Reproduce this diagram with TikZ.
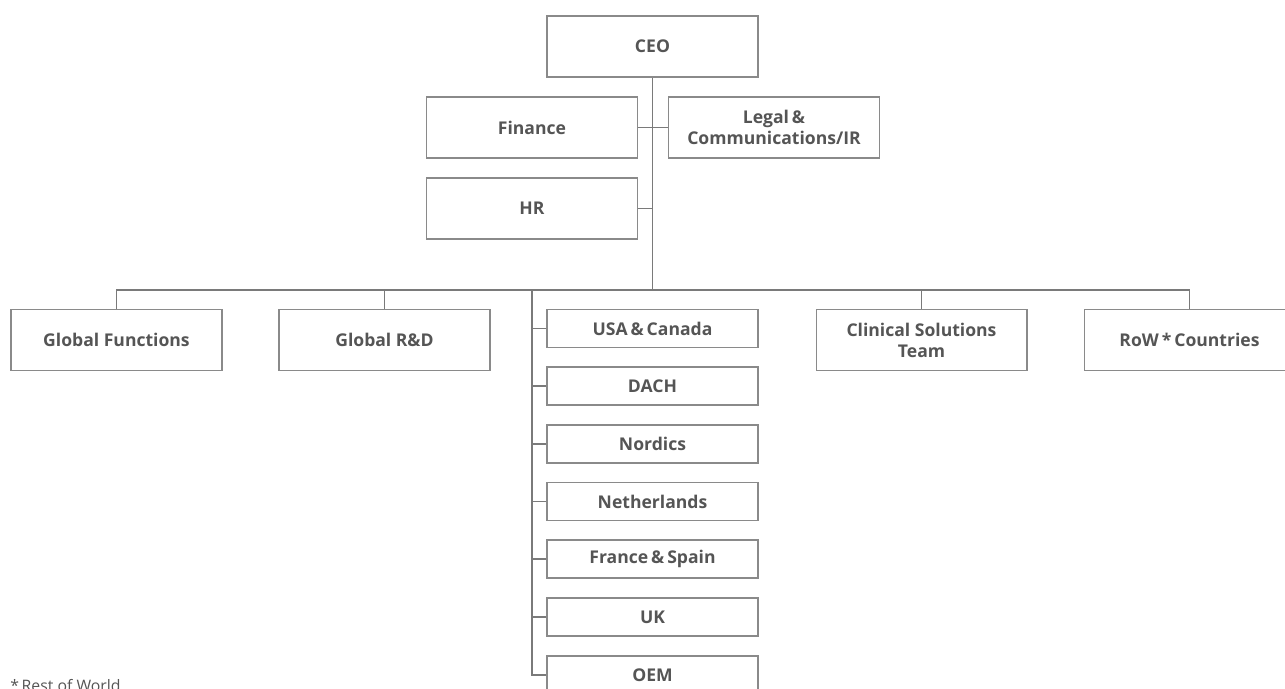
\documentclass[tikz,border=0pt]{standalone}
\usepackage{fontspec}
\setmainfont{Open Sans}
\usepackage{tikz}
\usetikzlibrary{positioning,calc}

\definecolor{boxgray}{HTML}{8A8A8A}
\definecolor{linegray}{HTML}{7A7A7A}
\definecolor{txtgray}{HTML}{555555}

\tikzset{
  unit/.style={draw=boxgray,line width=0.6pt,fill=white,text=txtgray,
    font=\fontsize{10}{12}\selectfont\bfseries,align=center,
    minimum width=4.22cm,minimum height=1.22cm,inner sep=2pt},
  region/.style={unit,minimum height=0.76cm},
  link/.style={draw=linegray,line width=0.6pt}
}

\begin{document}
\begin{tikzpicture}[x=0.02cm,y=-0.02cm]
  \useasboundingbox (0,0) rectangle (1285,689);
  \clip (0,0) rectangle (1285,689);

  % top management
  \node[unit] (ceo) at (652.5,46.5) {CEO};
  \node[unit] (fin) at (532,127.5) {Finance};
  \node[unit] (legal) at (774,127.5) {Legal\,\&\\Communications/IR};
  \node[unit] (hr) at (532,208.5) {HR};

  % second level
  \node[unit] (gf) at (116.5,340) {Global Functions};
  \node[unit] (grd) at (384.5,340) {Global R\&D};
  \node[unit] (cst) at (921.5,340) {Clinical Solutions\\Team};
  \node[unit] (row) at (1189.5,340) {RoW\,*\,Countries};

  % regions
  \node[region] (usa) at (652.5,328.5) {USA\,\&\,Canada};
  \node[region] (dach) at (652.5,386) {DACH};
  \node[region] (nord) at (652.5,444) {Nordics};
  \node[region] (nl) at (652.5,501.5) {Netherlands};
  \node[region] (frsp) at (652.5,559) {France\,\&\,Spain};
  \node[region] (uk) at (652.5,617) {UK};
  \node[region] (oem) at (652.5,675) {OEM};

  \coordinate (bar) at (652.5,290);
  \coordinate (trunk) at (532,290);

  % lines
  \draw[link] (ceo.south) -- (bar);
  \draw[link] (fin.east) -- (legal.west);
  \draw[link] (hr.east) -- (hr.east -| bar);
  \draw[link] (gf.north) |- (row.north |- bar) -- (row.north);
  \draw[link] (grd.north) -- (grd.north |- bar);
  \draw[link] (cst.north) -- (cst.north |- bar);
  \draw[link] (trunk) |- (oem.west);
  \draw[link] (usa.west) -- (usa.west -| trunk);
  \draw[link] (dach.west) -- (dach.west -| trunk);
  \draw[link] (nord.west) -- (nord.west -| trunk);
  \draw[link] (nl.west) -- (nl.west -| trunk);
  \draw[link] (frsp.west) -- (frsp.west -| trunk);
  \draw[link] (uk.west) -- (uk.west -| trunk);

  % footnote
  \node[anchor=base west,text=txtgray,font=\fontsize{9}{11}\selectfont,inner sep=0pt]
    (note) at (10,691) {*\,Rest of World};
\end{tikzpicture}
\end{document}
